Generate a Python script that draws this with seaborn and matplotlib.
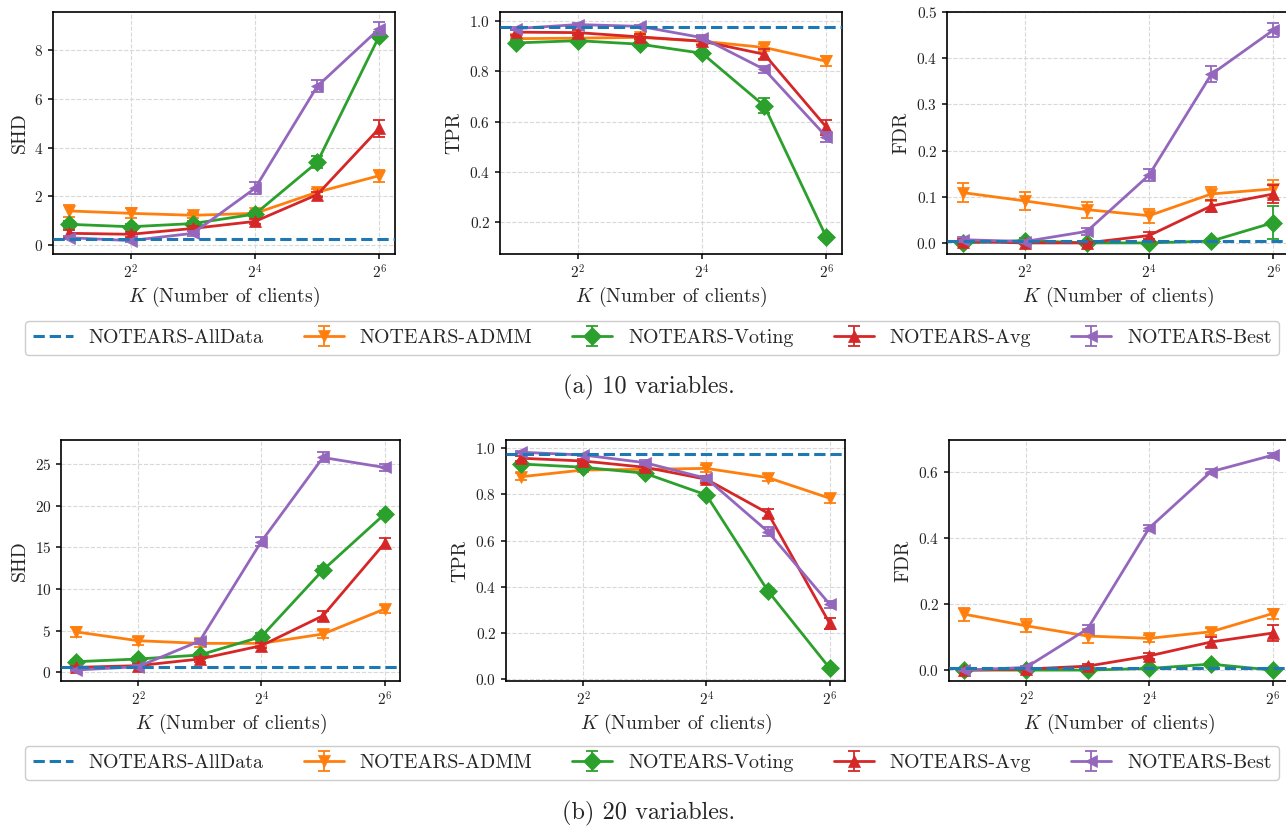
import numpy as np
import pandas as pd
import matplotlib
matplotlib.use("Agg")
import matplotlib.pyplot as plt
import seaborn as sns
from matplotlib.ticker import NullLocator, FixedLocator, MultipleLocator
from matplotlib.legend_handler import HandlerTuple
from matplotlib.lines import Line2D

# ---------------- data ----------------
K = [2, 4, 8, 16, 32, 64]
methods = ["NOTEARS-ADMM", "NOTEARS-Voting", "NOTEARS-Avg", "NOTEARS-Best"]
baseline_label = "NOTEARS-AllData"

# 10 variables
shd10_alldata = 0.23
shd10_admm = [1.40, 1.30, 1.22, 1.30, 2.17, 2.85]
shd10_voting = [0.85, 0.75, 0.88, 1.27, 3.40, 8.60]
shd10_avg = [0.48, 0.44, 0.68, 0.97, 2.07, 4.80]
shd10_best = [0.30, 0.18, 0.48, 2.33, 6.52, 8.89]
shd10_admm_err = [0.25, 0.20, 0.10, 0.10, 0.15, 0.25]
shd10_voting_err = [0.15, 0.10, 0.10, 0.10, 0.25, 0.15]
shd10_avg_err = [0.15, 0.10, 0.10, 0.10, 0.10, 0.35]
shd10_best_err = [0.05, 0.05, 0.10, 0.25, 0.25, 0.25]

tpr10_alldata = 0.977
tpr10_admm = [0.930, 0.932, 0.935, 0.920, 0.895, 0.840]
tpr10_voting = [0.913, 0.922, 0.908, 0.872, 0.663, 0.140]
tpr10_avg = [0.956, 0.954, 0.937, 0.920, 0.868, 0.578]
tpr10_best = [0.970, 0.986, 0.979, 0.934, 0.808, 0.540]
tpr10_admm_err = [0.010, 0.010, 0.010, 0.010, 0.015, 0.020]
tpr10_voting_err = [0.010, 0.010, 0.010, 0.010, 0.030, 0.010]
tpr10_avg_err = [0.010, 0.010, 0.010, 0.015, 0.020, 0.030]
tpr10_best_err = [0.005, 0.005, 0.005, 0.010, 0.015, 0.020]

fdr10_alldata = 0.004
fdr10_admm = [0.109, 0.091, 0.072, 0.059, 0.106, 0.117]
fdr10_voting = [0.000, 0.005, 0.000, 0.000, 0.004, 0.044]
fdr10_avg = [0.003, 0.000, 0.000, 0.016, 0.080, 0.106]
fdr10_best = [0.007, 0.003, 0.025, 0.147, 0.365, 0.461]
fdr10_admm_err = [0.020, 0.020, 0.017, 0.015, 0.015, 0.020]
fdr10_voting_err = [0.003, 0.005, 0.003, 0.002, 0.004, 0.035]
fdr10_avg_err = [0.005, 0.003, 0.003, 0.008, 0.012, 0.020]
fdr10_best_err = [0.005, 0.003, 0.008, 0.012, 0.017, 0.015]

# 20 variables
shd20_alldata = 0.6
shd20_admm = [4.85, 3.80, 3.48, 3.48, 4.60, 7.60]
shd20_voting = [1.28, 1.60, 2.08, 4.28, 12.28, 19.00]
shd20_avg = [0.60, 0.80, 1.60, 3.20, 6.80, 15.50]
shd20_best = [0.28, 0.68, 3.76, 15.70, 25.80, 24.60]
shd20_admm_err = [0.60, 0.50, 0.40, 0.30, 0.50, 0.50]
shd20_voting_err = [0.20, 0.30, 0.30, 0.40, 0.50, 0.40]
shd20_avg_err = [0.20, 0.20, 0.30, 0.30, 0.60, 0.60]
shd20_best_err = [0.10, 0.20, 0.30, 0.50, 0.60, 0.40]

tpr20_alldata = 0.974
tpr20_admm = [0.877, 0.906, 0.909, 0.913, 0.873, 0.784]
tpr20_voting = [0.932, 0.918, 0.892, 0.798, 0.382, 0.048]
tpr20_avg = [0.957, 0.945, 0.918, 0.866, 0.719, 0.242]
tpr20_best = [0.983, 0.971, 0.938, 0.870, 0.639, 0.325]
tpr20_admm_err = [0.015, 0.010, 0.010, 0.015, 0.015, 0.020]
tpr20_voting_err = [0.010, 0.010, 0.010, 0.010, 0.010, 0.010]
tpr20_avg_err = [0.010, 0.010, 0.010, 0.015, 0.020, 0.025]
tpr20_best_err = [0.005, 0.005, 0.010, 0.010, 0.020, 0.015]

fdr20_alldata = 0.005
fdr20_admm = [0.169, 0.134, 0.103, 0.096, 0.116, 0.171]
fdr20_voting = [0.000, 0.000, 0.000, 0.005, 0.018, 0.000]
fdr20_avg = [0.000, 0.003, 0.012, 0.043, 0.085, 0.112]
fdr20_best = [0.000, 0.008, 0.125, 0.430, 0.600, 0.650]
fdr20_admm_err = [0.020, 0.020, 0.020, 0.010, 0.010, 0.015]
fdr20_voting_err = [0.002, 0.002, 0.002, 0.002, 0.005, 0.002]
fdr20_avg_err = [0.003, 0.003, 0.005, 0.008, 0.015, 0.025]
fdr20_best_err = [0.002, 0.003, 0.010, 0.010, 0.008, 0.008]

xtick_values = [4, 16, 64]
captions = ["(a) 10 variables.", "(b) 20 variables."]
xlabel_text = r"$K$ (Number of clients)"

# ---------------- style ----------------
sns.set_theme(style="whitegrid")
plt.rcParams.update({
    "font.family": "serif",
    "font.serif": ["cmr10"],
    "mathtext.fontset": "cm",
    "axes.formatter.use_mathtext": True,
    "axes.edgecolor": "black",
    "axes.linewidth": 1.2,
    "xtick.bottom": True,
    "ytick.left": True,
    "xtick.color": "#222222",
    "ytick.color": "#222222",
    "xtick.major.size": 3.5,
    "ytick.major.size": 3.5,
    "xtick.labelcolor": "#222222",
    "ytick.labelcolor": "#222222",
})

colors = {"NOTEARS-AllData": "#1f77b4", "NOTEARS-ADMM": "#ff7f0e",
          "NOTEARS-Voting": "#2ca02c", "NOTEARS-Avg": "#d62728",
          "NOTEARS-Best": "#9467bd"}
markers = {"NOTEARS-ADMM": "v", "NOTEARS-Voting": "D",
           "NOTEARS-Avg": "^", "NOTEARS-Best": "<"}

fig = plt.figure(figsize=(12.86, 8.30), dpi=100)

W, H = 1286.0, 830.0
panel_px = [
    [(53, 12, 342, 242), (500, 12, 342, 242), (947, 12, 342, 242)],
    [(61, 440, 339, 241), (506, 440, 339, 241), (949, 440, 339, 241)],
]

panels = [
    [("SHD", shd10_alldata, [shd10_admm, shd10_voting, shd10_avg, shd10_best],
      [shd10_admm_err, shd10_voting_err, shd10_avg_err, shd10_best_err], (-0.37, 9.57), 2),
     ("TPR", tpr10_alldata, [tpr10_admm, tpr10_voting, tpr10_avg, tpr10_best],
      [tpr10_admm_err, tpr10_voting_err, tpr10_avg_err, tpr10_best_err], (0.074, 1.036), 0.2),
     ("FDR", fdr10_alldata, [fdr10_admm, fdr10_voting, fdr10_avg, fdr10_best],
      [fdr10_admm_err, fdr10_voting_err, fdr10_avg_err, fdr10_best_err], (-0.024, 0.5), 0.1)],
    [("SHD", shd20_alldata, [shd20_admm, shd20_voting, shd20_avg, shd20_best],
      [shd20_admm_err, shd20_voting_err, shd20_avg_err, shd20_best_err], (-1.04, 27.9), 5),
     ("TPR", tpr20_alldata, [tpr20_admm, tpr20_voting, tpr20_avg, tpr20_best],
      [tpr20_admm_err, tpr20_voting_err, tpr20_avg_err, tpr20_best_err], (-0.008, 1.036), 0.2),
     ("FDR", fdr20_alldata, [fdr20_admm, fdr20_voting, fdr20_avg, fdr20_best],
      [fdr20_admm_err, fdr20_voting_err, fdr20_avg_err, fdr20_best_err], (-0.033, 0.696), 0.2)],
]

for r in range(2):
    row_handles = []
    for c in range(3):
        x0, y0, w, h = panel_px[r][c]
        ax = fig.add_axes([x0 / W, 1 - (y0 + h) / H, w / W, h / H])
        ax.set_xscale("log", base=2)
        ylabel, base, series, errs, ylim, ystep = panels[r][c]
        handles = []
        for m, vals, err in zip(methods, series, errs):
            df = pd.DataFrame({"K": K, "val": vals})
            sns.lineplot(data=df, x="K", y="val", ax=ax, color=colors[m],
                         marker=markers[m], markersize=9, markeredgewidth=0.5,
                         markeredgecolor=colors[m], linewidth=2, legend=False)
            line = ax.lines[-1]
            eb = ax.errorbar(K, vals, yerr=err, fmt="none", ecolor=colors[m],
                             elinewidth=1.3, capsize=4, capthick=1.3)
            handles.append((line, eb))
        ax.axhline(base, color=colors[baseline_label], ls="--", lw=2.2, zorder=4)
        ax.set_ylim(*ylim)
        ax.yaxis.set_major_locator(MultipleLocator(ystep))
        ax.set_xlim(2 ** 0.75, 2 ** 6.25)
        ax.xaxis.set_major_locator(FixedLocator(xtick_values))
        ax.xaxis.set_minor_locator(NullLocator())
        ax.set_ylabel(ylabel, fontsize=14.2)
        ax.set_xlabel(xlabel_text, fontsize=14.2, labelpad=2)
        ax.tick_params(axis="both", labelsize=11)
        ax.grid(True, which="major", ls="--", color="#d8d8d8", lw=0.8)
        for s in ax.spines.values():
            s.set_color("black")
            s.set_linewidth(1.2)
        if c == 0:
            row_handles = [Line2D([], [], color=colors[baseline_label], ls="--", lw=2.2)] + handles
    legend_y = [338, 763][r]
    fig.legend(row_handles, [baseline_label] + methods, loc="center",
               bbox_to_anchor=(652 / W, 1 - legend_y / H), ncol=5, fontsize=14.4,
               frameon=True, fancybox=True, edgecolor="#cccccc", framealpha=1,
               handler_map={tuple: HandlerTuple(ndivide=1)})
    fig.text(649 / W, 1 - [387, 813][r] / H, captions[r], ha="center", va="center",
             fontsize=17.5)

fig.savefig("out.png", dpi=100)
